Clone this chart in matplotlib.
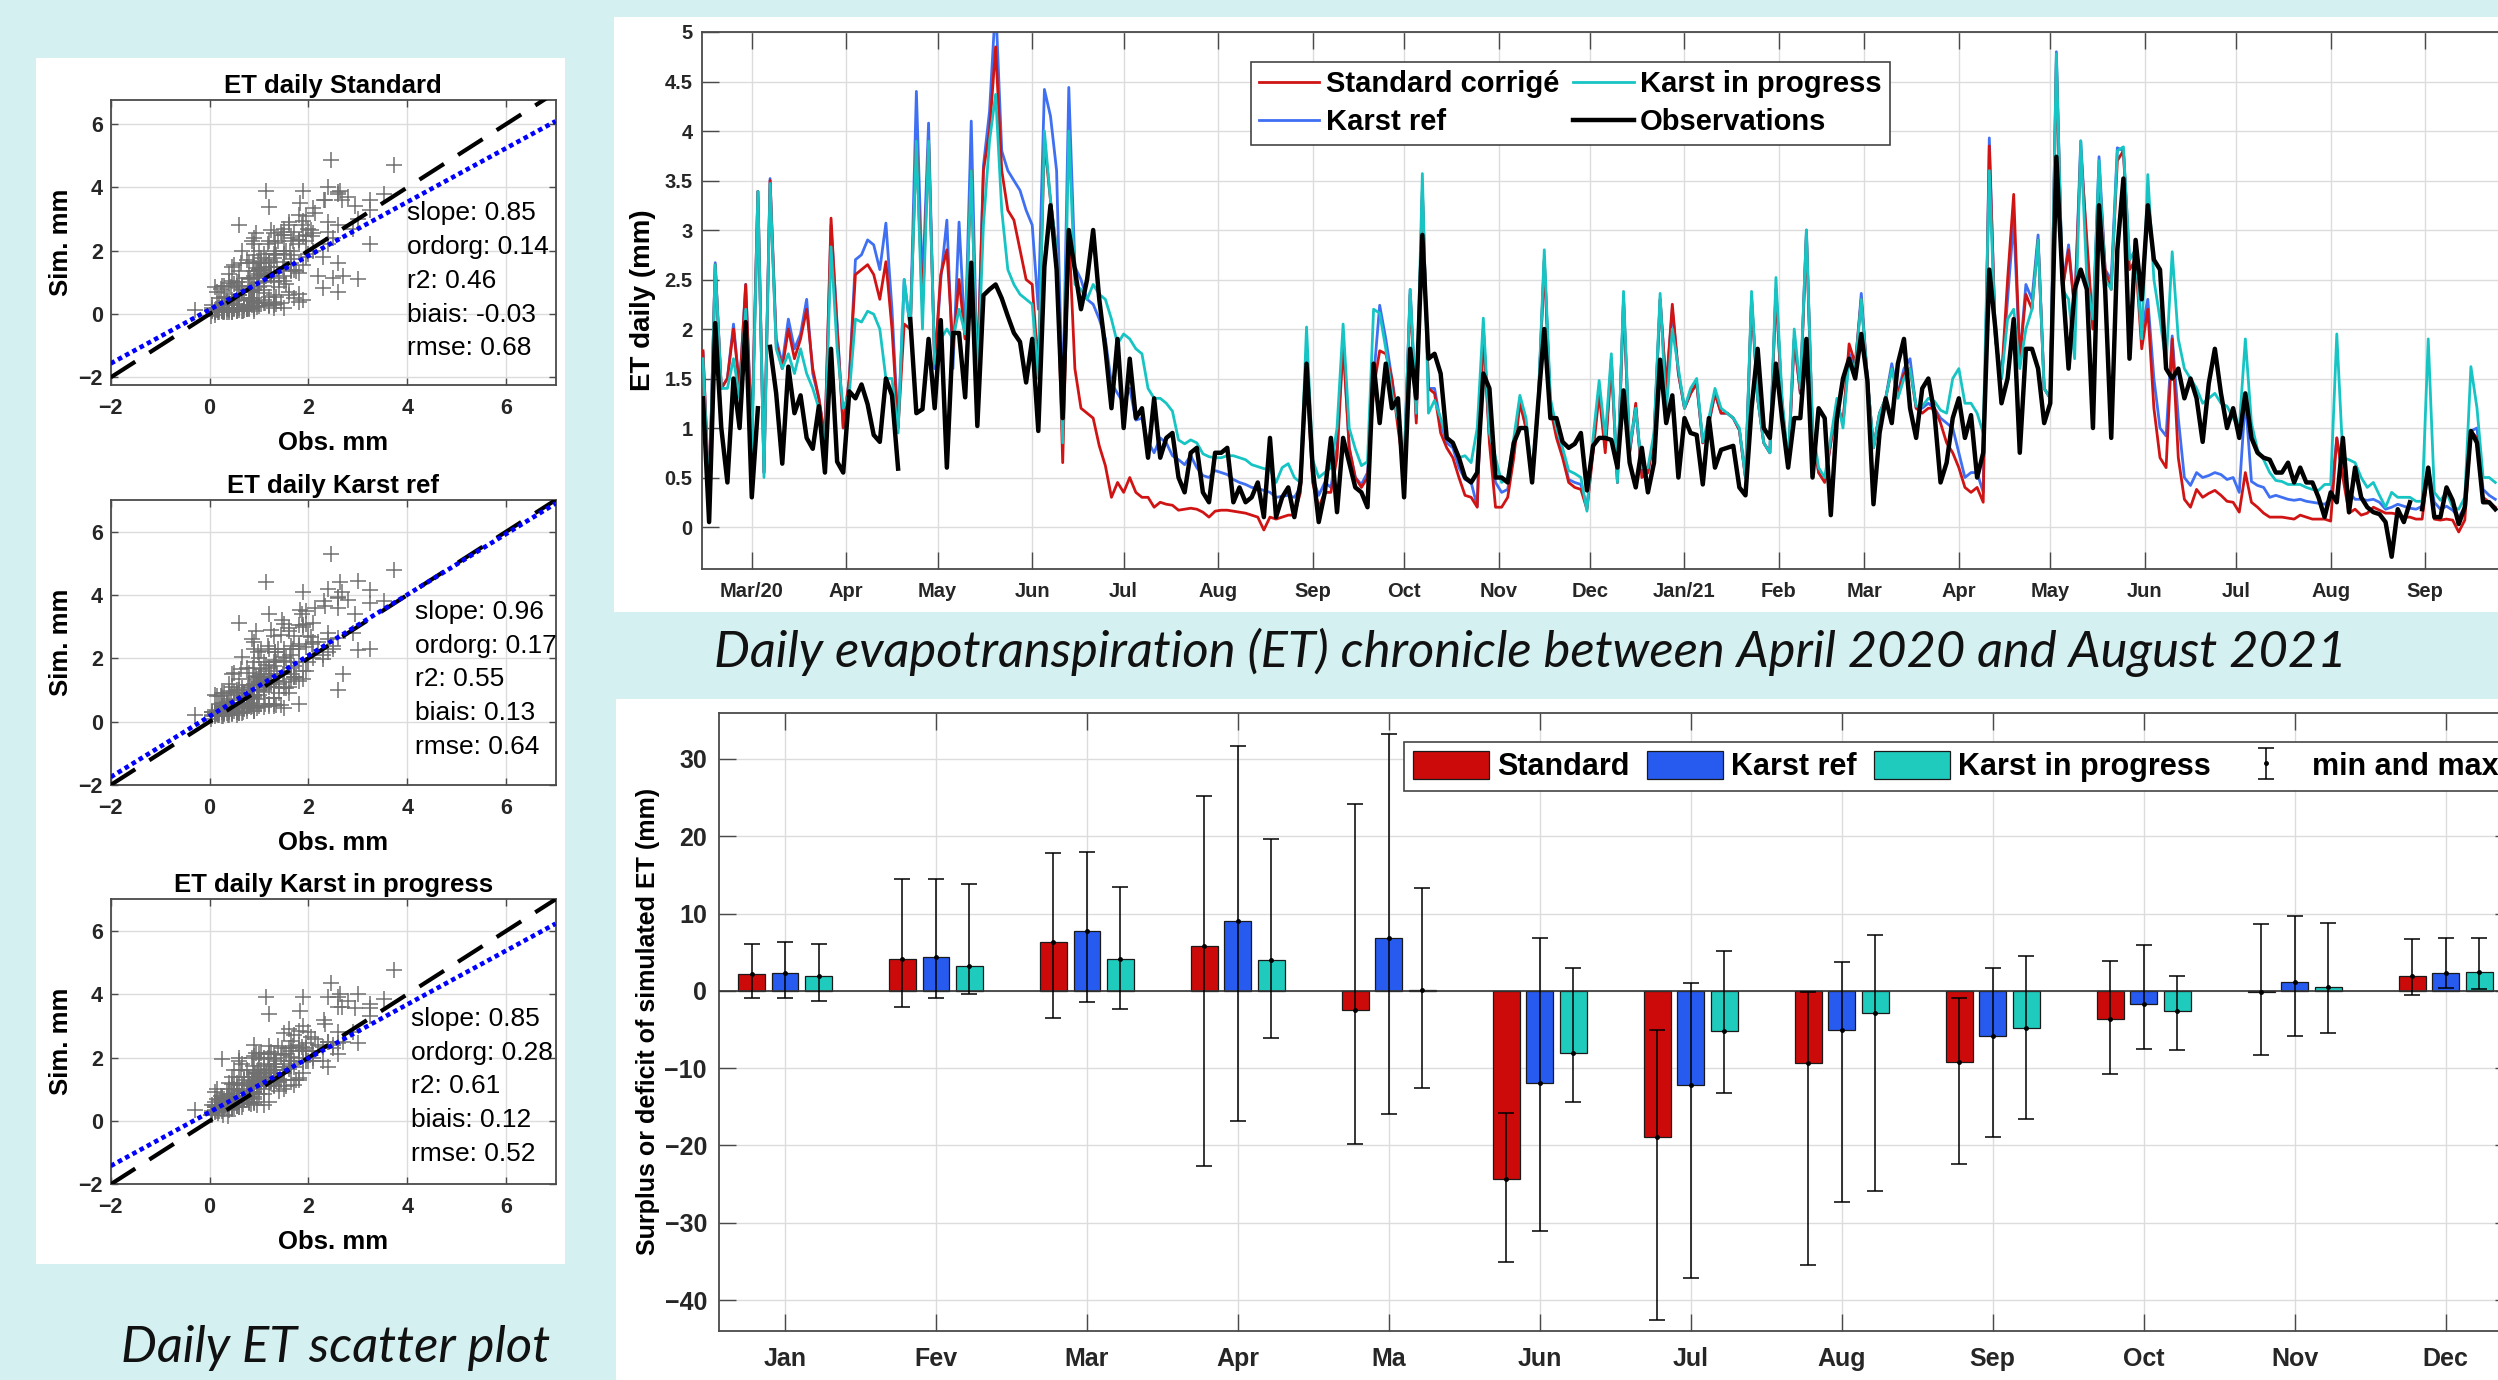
import numpy as np
import matplotlib
matplotlib.use("Agg")
import matplotlib.pyplot as plt
from matplotlib.patches import Rectangle

plt.rcParams["font.family"] = ["Liberation Sans", "DejaVu Sans"]
plt.rcParams["font.weight"] = "bold"
plt.rcParams["axes.labelweight"] = "bold"
plt.rcParams["axes.titleweight"] = "bold"

nan = np.nan

# ---------------------------------------------------------------- daily ET
# one value every 2 days, starting 14 Feb 2020 (mm/day)
start_day = np.datetime64("2020-02-14")
step_days = 2

obs = [
    1.3, 0.05, 2.06, 1.0, 0.45, 1.5, 1.0, 2.07, 0.3, 1.2,
    nan, 1.82, 1.35, 0.64, 1.62, 1.15, 1.33, 0.9, 0.79, 1.22,
    0.55, 1.8, 0.66, 0.55, 1.37, 1.3, 1.44, 1.24, 0.93, 0.86,
    1.5, 1.33, 0.59, nan, 2.1, 1.15, 1.19, 1.9, 1.2, 2.09,
    0.6, 1.96, 1.96, 1.31, 2.67, 1.02, 2.34, 2.4, 2.45, 2.31,
    2.13, 1.96, 1.87, 1.46, 1.9, 0.97, 2.63, 3.25, 2.6,
    1.1, 3.0, 2.6, 2.2, 2.5, 3.0, 2.3, 1.8, 1.2, 1.9,
    1.0, 1.7, 1.1, 1.2, 0.7, 1.3, 0.7, 0.9, 0.95, 0.5,
    0.35, 0.75, 0.8, 0.35, 0.25, 0.75, 0.75, 0.8, 0.25, 0.4,
    0.25, 0.3, 0.45, 0.1, 0.9, 0.1, 0.3, 0.4, 0.1, 0.45,
    1.65, 0.6, 0.05, 0.35, 0.9, 0.15, 0.9, 0.65, 0.4, 0.35,
    0.2, 1.65, 1.05, 1.65, 1.2, 1.3, 0.3, 1.8, 1.3,
    2.95, 1.7, 1.75, 1.55, 0.9, 0.85, 0.7, 0.5, 0.45, 0.55,
    1.55, 1.4, 0.5, 0.5, 0.45, 0.85, 1.0, 1.0, 0.45, 1.25,
    2.0, 1.1, 1.1, 0.86, 0.8, 0.84, 0.95, 0.37, 0.82, 0.9,
    0.9, 0.88, 0.6, 1.38, 0.65, 0.4, 0.8, 0.35, 0.65, 1.69,
    1.05, 1.33, 0.5, 1.1, 0.95, 0.93, 0.43, 1.1, 0.6, 0.78,
    0.8, 0.82, 0.4, 0.32, 1.2, 1.8, 1.0, 0.9, 1.65,
    1.1, 0.6, 1.1, 1.1, 1.9, 0.5, 1.2, 1.1, 0.12, 1.1,
    1.5, 1.7, 1.5, 1.95, 1.48, 0.23, 0.95, 1.3, 1.05, 1.65,
    1.9, 1.2, 0.9, 1.4, 1.5, 1.15, 0.45, 0.65, 1.1, 1.3,
    0.9, 1.13, 0.5, 0.75, 2.6, 2.0, 1.25, 1.5, 2.1, 0.75,
    1.8, 1.8, 1.6, 1.05, 1.25, 3.74, 2.5, 1.6, 2.4, 2.6,
    2.4, 1.0, 3.25, 2.4, 0.9, 2.8, 3.52, 1.7, 2.9,
    2.3, 3.25, 2.7, 2.6, 1.6, 1.5, 1.6, 1.3, 1.5, 1.3,
    0.86, 1.45, 1.8, 1.35, 1.0, 1.2, 0.9, 1.35, 0.9, 0.75,
    0.7, 0.68, 0.55, 0.55, 0.65, 0.45, 0.6, 0.45, 0.45, 0.3,
    0.1, 0.35, 0.25, 0.9, 0.15, 0.6, 0.3, 0.2, 0.15, 0.13,
    0.05, -0.3, 0.18, 0.05, 0.25, nan, 0.18, 0.6, 0.1, 0.1,
    0.4, 0.27, 0.03, 0.2, 0.97, 0.85, 0.25, 0.25, 0.18,
]

standard = [
    1.78, 0.3, 2.65, 1.4, 1.5, 2.0, 1.4, 2.45, 0.9, 3.39,
    0.55, 3.5, 1.85, 1.6, 2.0, 1.7, 1.9, 2.2, 1.6, 1.3,
    0.9, 3.12, 2.0, 1.0, 1.5, 2.55, 2.6, 2.65, 2.55, 2.3,
    2.68, 2.0, 1.0, 2.05, 2.0, 3.9, 2.2, 3.9, 1.65, 2.55,
    2.8, 1.8, 2.5, 1.9, 3.6, 1.45, 3.6, 4.0, 4.85, 3.6,
    3.2, 3.1, 2.8, 2.5, 2.45, 1.6, 3.9, 3.3, 2.8,
    0.65, 3.0, 1.6, 1.2, 1.15, 1.1, 0.82, 0.62, 0.3, 0.45,
    0.35, 0.5, 0.35, 0.3, 0.3, 0.2, 0.25, 0.23, 0.22, 0.17,
    0.18, 0.19, 0.18, 0.15, 0.1, 0.16, 0.17, 0.17, 0.16, 0.15,
    0.14, 0.12, 0.1, -0.03, 0.1, 0.08, 0.1, 0.12, 0.12, 0.35,
    1.6, 0.45, 0.2, 0.35, 0.35, 0.7, 1.85, 0.8, 0.5, 0.4,
    0.5, 1.4, 1.78, 1.75, 1.5, 1.0, 0.55, 2.35, 1.05,
    3.4, 1.4, 1.35, 0.95, 0.8, 0.7, 0.5, 0.32, 0.3, 0.2,
    2.0, 0.85, 0.2, 0.2, 0.3, 0.7, 1.25, 1.0, 0.45, 1.2,
    2.7, 1.2, 0.9, 0.7, 0.45, 0.4, 0.38, 0.18, 0.75, 1.35,
    0.75, 1.65, 0.45, 2.3, 0.75, 1.25, 0.5, 0.55, 0.9, 2.3,
    1.4, 2.25, 1.55, 1.2, 1.35, 1.45, 0.85, 1.05, 1.35, 1.15,
    1.15, 1.1, 0.98, 0.5, 2.3, 1.3, 0.85, 0.75, 2.4,
    1.25, 0.6, 1.9, 1.35, 2.95, 0.95, 0.55, 0.45, 0.85, 1.25,
    1.05, 1.85, 1.65, 2.3, 1.5, 0.8, 1.15, 1.3, 1.6, 1.35,
    1.55, 1.6, 1.2, 1.15, 1.2, 1.2, 1.05, 0.85, 0.75, 0.6,
    0.4, 0.35, 0.4, 0.25, 3.85, 1.9, 1.5, 2.5, 3.36, 1.7,
    2.35, 2.2, 2.9, 1.4, 1.3, 4.7, 2.4, 2.8, 2.2, 3.8,
    2.9, 2.0, 3.6, 2.6, 2.4, 3.7, 3.8, 2.6, 2.7,
    1.8, 2.2, 1.2, 0.7, 0.6, 1.9, 0.7, 0.28, 0.2, 0.38,
    0.3, 0.34, 0.37, 0.32, 0.26, 0.25, 0.15, 0.55, 0.25, 0.2,
    0.14, 0.1, 0.1, 0.1, 0.09, 0.08, 0.12, 0.1, 0.08, 0.08,
    0.08, 0.06, 0.9, 0.5, 0.14, 0.18, 0.12, 0.14, 0.2, 0.17,
    0.14, 0.14, 0.13, 0.1, 0.1, 0.08, 0.08, 0.6, 0.08, 0.07,
    0.08, 0.07, -0.05, 0.07, 0.97, 0.9, 0.3, 0.25, 0.2,
]

karst_ref = [
    1.76, 0.3, 2.67, 1.4, 1.5, 2.05, 1.4, 2.45, 0.9, 3.39,
    0.55, 3.52, 1.9, 1.65, 2.1, 1.8, 1.95, 2.3, 1.55, 1.3,
    0.9, 3.05, 2.05, 1.0, 1.5, 2.7, 2.75, 2.9, 2.85, 2.6,
    3.07, 2.2, 1.0, 2.5, 2.0, 4.4, 2.4, 4.08, 1.6, 2.5,
    3.1, 1.6, 3.08, 1.9, 4.1, 1.5, 3.65, 4.2, 5.3, 3.8,
    3.6, 3.5, 3.4, 3.2, 3.05, 2.2, 4.42, 4.15, 3.6,
    1.2, 4.44, 2.63, 2.5, 2.3, 2.25, 2.1, 1.9, 1.45, 1.35,
    1.25, 1.4, 1.08, 1.1, 0.86, 0.75, 0.9, 0.85, 0.72, 0.68,
    0.63, 0.72, 0.6, 0.52, 0.5, 0.57, 0.55, 0.53, 0.48, 0.45,
    0.43, 0.4, 0.39, 0.37, 0.35, 0.3, 0.31, 0.32, 0.3, 0.4,
    1.69, 0.5, 0.32, 0.45, 0.4, 0.8, 1.9, 0.8, 0.5, 0.43,
    0.55, 1.5, 2.24, 1.9, 1.5, 1.1, 0.6, 2.4, 1.1,
    3.4, 1.4, 1.4, 1.05, 0.85, 0.8, 0.6, 0.48, 0.45, 0.21,
    2.0, 0.9, 0.45, 0.35, 0.38, 0.75, 1.3, 1.0, 0.48, 1.25,
    2.7, 1.25, 0.95, 0.75, 0.48, 0.45, 0.43, 0.2, 0.8, 1.4,
    0.8, 1.7, 0.45, 2.3, 0.75, 1.2, 0.55, 0.55, 0.9, 2.3,
    1.4, 2.2, 1.55, 1.2, 1.35, 1.45, 0.85, 1.05, 1.35, 1.15,
    1.15, 1.1, 0.98, 0.5, 2.3, 1.3, 0.85, 0.75, 2.4,
    1.25, 0.6, 1.9, 1.35, 3.0, 0.95, 0.55, 0.46, 0.85, 1.25,
    1.05, 1.75, 1.6, 2.36, 1.5, 0.8, 1.15, 1.3, 1.65, 1.35,
    1.6, 1.7, 1.2, 1.2, 1.25, 1.2, 1.1, 1.05, 1.0, 0.75,
    0.5, 0.55, 0.55, 0.35, 3.93, 1.9, 1.5, 2.3, 3.1, 1.7,
    2.45, 2.3, 2.95, 1.4, 1.3, 4.8, 2.4, 2.85, 2.2, 3.9,
    2.8, 2.0, 3.74, 2.6, 2.5, 3.83, 3.8, 2.7, 2.8,
    1.98, 2.3, 1.5, 1.0, 0.92, 1.93, 1.1, 0.5, 0.42, 0.55,
    0.5, 0.52, 0.55, 0.53, 0.48, 0.5, 0.35, 1.3, 0.46, 0.42,
    0.4, 0.3, 0.32, 0.3, 0.28, 0.27, 0.28, 0.26, 0.25, 0.24,
    0.23, 0.28, 0.9, 0.5, 0.35, 0.28, 0.28, 0.27, 0.28, 0.25,
    0.18, 0.2, 0.23, 0.21, 0.19, 0.18, 0.21, 0.6, 0.25, 0.18,
    0.21, 0.17, 0.1, 0.2, 0.97, 1.0, 0.38, 0.32, 0.28,
]

karst_prog = [
    1.7, 0.25, 2.65, 1.4, 1.4, 1.7, 1.3, 2.2, 0.7, 3.39,
    0.5, 3.47, 1.8, 1.6, 1.75, 1.55, 1.8, 1.55, 1.4, 1.2,
    0.75, 2.83, 1.8, 1.2, 1.35, 2.1, 2.07, 2.18, 2.15, 2.0,
    1.5, 1.5, 0.95, 2.5, 2.0, 3.9, 2.0, 3.9, 1.65, 1.9,
    2.0, 1.9, 2.2, 1.95, 3.6, 1.44, 3.05, 3.9, 4.37, 3.2,
    2.6, 2.45, 2.35, 2.3, 2.25, 1.5, 4.0, 3.3, 2.8,
    0.85, 4.0, 2.45, 2.4, 2.3, 2.45, 2.35, 2.3, 2.1, 1.85,
    1.95, 1.9, 1.8, 1.75, 1.4, 1.3, 1.3, 1.25, 1.17, 0.88,
    0.84, 0.88, 0.85, 0.74, 0.71, 0.7, 0.7, 0.72, 0.72, 0.7,
    0.68, 0.63, 0.61, 0.59, 0.58, 0.45, 0.6, 0.64, 0.5, 0.45,
    2.02, 0.68, 0.5, 0.55, 0.6, 1.0, 2.05, 1.0, 0.79, 0.62,
    0.66, 2.2, 2.16, 1.8, 1.35, 1.1, 0.6, 2.4, 1.15,
    3.57, 1.15, 1.28, 1.1, 0.9, 0.86, 0.7, 0.72, 0.65, 1.0,
    2.11, 0.95, 0.7, 0.45, 0.5, 0.9, 1.33, 1.1, 0.5, 1.25,
    2.8, 1.3, 1.0, 0.8, 0.57, 0.54, 0.5, 0.16, 0.9, 1.48,
    0.9, 1.75, 0.45, 2.38, 0.8, 1.2, 0.6, 0.6, 0.95, 2.36,
    1.15, 2.0, 1.6, 1.2, 1.4, 1.5, 0.86, 1.1, 1.4, 1.2,
    1.15, 1.1, 1.0, 0.5, 2.38, 1.3, 0.85, 0.75, 2.52,
    1.3, 0.65, 2.0, 1.4, 3.0, 1.0, 0.6, 0.5, 0.9, 1.3,
    1.0, 1.7, 1.6, 2.3, 1.5, 0.8, 1.15, 1.3, 1.6, 1.3,
    1.5, 1.6, 1.22, 1.22, 1.3, 1.27, 1.18, 1.15, 1.5, 1.6,
    1.25, 1.25, 1.15, 0.95, 3.6, 1.9, 1.5, 2.1, 2.2, 1.6,
    2.0, 2.2, 2.9, 1.4, 1.3, 4.78, 2.4, 2.3, 1.7, 3.9,
    2.5, 2.1, 3.7, 2.5, 2.4, 3.8, 3.84, 2.7, 2.8,
    1.9, 3.56, 2.5, 2.1, 1.65, 2.78, 1.9, 1.6, 1.5, 1.4,
    1.25, 1.3, 1.35, 1.25, 1.22, 1.1, 1.0, 1.9, 1.05, 0.78,
    0.68, 0.55, 0.47, 0.46, 0.43, 0.43, 0.43, 0.4, 0.38, 0.37,
    0.43, 0.43, 1.95, 0.7, 0.68, 0.65, 0.5, 0.4, 0.45, 0.32,
    0.2, 0.35, 0.3, 0.3, 0.3, 0.26, 0.26, 1.9, 0.35, 0.27,
    0.35, 0.2, 0.18, 0.3, 1.62, 1.2, 0.5, 0.5, 0.45,
]

ts_month_labels = ["Mar/20", "Apr", "May", "Jun", "Jul", "Aug", "Sep", "Oct",
                   "Nov", "Dec", "Jan/21", "Feb", "Mar", "Apr", "May", "Jun",
                   "Jul", "Aug", "Sep"]

# ---------------------------------------------------------------- scatter stats
scatter_titles = ["ET daily Standard", "ET daily Karst ref", "ET daily Karst in progress"]
slopes = [0.85, 0.96, 0.85]
ordorgs = [0.14, 0.17, 0.28]
r2s = [0.46, 0.55, 0.61]
biais = [-0.03, 0.13, 0.12]
rmses = [0.68, 0.64, 0.52]
sc_xlim = [-2, 7]
sc_ylims = [(-2.24, 6.76), (-2, 7), (-2, 7)]

# ---------------------------------------------------------------- monthly bars
months = ["Jan", "Fev", "Mar", "Apr", "Ma", "Jun", "Jul", "Aug", "Sep", "Oct", "Nov", "Dec"]
bar_std = [2.2, 4.1, 6.35, 5.8, -2.5, -24.4, -18.9, -9.3, -9.2, -3.7, -0.1, 1.9]
bar_ref = [2.3, 4.4, 7.8, 9.1, 6.8, -11.9, -12.2, -5.1, -5.8, -1.7, 1.1, 2.3]
bar_prog = [1.9, 3.2, 4.15, 4.0, 0.1, -8.1, -5.2, -2.8, -4.85, -2.55, 0.45, 2.4]
std_max = [6.1, 14.5, 17.8, 25.2, 24.2, -15.75, -5.1, -0.1, -0.9, 3.9, 8.7, 6.7]
std_min = [-0.9, -2.1, -3.45, -22.7, -19.8, -35.1, -42.6, -35.4, -22.4, -10.7, -8.25, -0.5]
ref_max = [6.3, 14.5, 17.95, 31.7, 33.2, 6.9, 1.0, 3.7, 3.0, 6.0, 9.7, 6.8]
ref_min = [-0.9, -0.9, -1.5, -16.8, -15.9, -31.0, -37.2, -27.3, -18.9, -7.55, -5.85, 0.4]
prog_max = [6.1, 13.8, 13.4, 19.6, 13.3, 2.95, 5.1, 7.2, 4.45, 1.95, 8.8, 6.9]
prog_min = [-1.3, -0.45, -2.3, -6.1, -12.6, -14.4, -13.2, -25.9, -16.6, -7.7, -5.4, 0.3]

# ---------------------------------------------------------------- styling
W, H = 2498, 1380
BG = "#D4F0F0"
AX_COL = "#4a4a4a"
GRID_COL = "#dcdcdc"
C_STD, C_REF, C_PROG = "#D01414", "#3F6FF2", "#17C4C4"
B_STD, B_REF, B_PROG = "#CC0A0A", "#275AEF", "#1FCBBD"


def frac(x0, y0, x1, y1):
    # pixel box (origin top-left) -> figure fraction rectangle
    return [x0 / W, 1 - y1 / H, (x1 - x0) / W, (y1 - y0) / H]


def white_panel(fig, x0, y0, x1, y1):
    fig.add_artist(Rectangle((x0 / W, 1 - y1 / H), (x1 - x0) / W, (y1 - y0) / H,
                             transform=fig.transFigure, facecolor="white",
                             edgecolor="none", zorder=-5))


def matlab_style(ax, ticklen, size, xpad, ypad):
    ax.grid(True, color=GRID_COL, lw=1)
    ax.set_axisbelow(True)
    for sp in ax.spines.values():
        sp.set_color(AX_COL)
        sp.set_linewidth(1.3)
    ax.tick_params(direction="in", length=ticklen, width=1, color=AX_COL,
                   top=True, right=True, labelsize=size, labelcolor="#262626")
    ax.tick_params(axis="x", pad=xpad)
    ax.tick_params(axis="y", pad=ypad)


fig = plt.figure(figsize=(W / 100, H / 100), dpi=100, facecolor=BG)

white_panel(fig, 35.6, 57.7, 565.4, 1264)
white_panel(fig, 614, 17, 2600, 612)
white_panel(fig, 616, 699, 2600, 1450)

# ---------------------------------------------------------------- time series
ax_ts = fig.add_axes(frac(702, 32, 2559.3, 568.6))
series = [(karst_ref, C_REF, 2.0, 2, "Karst ref"),
          (standard, C_STD, 2.0, 3, "Standard corrigé"),
          (karst_prog, C_PROG, 2.0, 4, "Karst in progress"),
          (obs, "black", 3.2, 5, "Observations")]
lines = {}
for vals, col, lw, zo, lab in series:
    dates = start_day + np.arange(len(vals)) * step_days
    lines[lab], = ax_ts.plot(dates, vals, color=col, lw=lw, zorder=zo, label=lab)

ax_ts.set_xlim(np.datetime64("2020-02-13T16:00"), np.datetime64("2021-10-15"))
ax_ts.set_ylim(-0.42, 5)
month_ticks = np.arange("2020-03", "2021-10", dtype="datetime64[M]").astype("datetime64[D]")
ax_ts.set_xticks(month_ticks, ts_month_labels)
yt = np.arange(0, 5.01, 0.5)
ax_ts.set_yticks(yt, ["%g" % v for v in yt])
matlab_style(ax_ts, 12, 14.5, 9.4, 6.8)
ax_ts.set_ylabel("ET daily (mm)", fontsize=20, va="center")
ax_ts.yaxis.set_label_coords((642.7 - 702) / 1857.3, 0.5)

order = ["Standard corrigé", "Karst ref", "Karst in progress", "Observations"]
leg = ax_ts.legend([lines[k] for k in order], order, ncol=2, loc="upper left",
                   bbox_to_anchor=(1250.5 / W, 1 - 62 / H), bbox_transform=fig.transFigure,
                   prop={"size": 21, "weight": "bold"}, fancybox=False, framealpha=1,
                   edgecolor="#444444", borderpad=0.29, handlelength=2.07,
                   handletextpad=0.22, columnspacing=0.48, labelspacing=0.33,
                   borderaxespad=0)
leg.get_frame().set_linewidth(1.2)

fig.text(1530 / W, 1 - 652 / H,
         "Daily evapotranspiration (ET) chronicle between April 2020 and August 2021",
         ha="center", va="center", fontsize=36.5, style="italic", fontweight="normal",
         family=["Lato", "DejaVu Sans"], color="#111111")

# ---------------------------------------------------------------- bars
ax_b = fig.add_axes(frac(718.6, 712.6, 2512, 1331))
x = np.arange(1, len(months) + 1)
groups = [(bar_std, std_min, std_max, B_STD, -0.222, "Standard"),
          (bar_ref, ref_min, ref_max, B_REF, 0.0, "Karst ref"),
          (bar_prog, prog_min, prog_max, B_PROG, 0.222, "Karst in progress")]
handles, labels = [], []
err_handle = None
for vals, lo, hi, col, off, lab in groups:
    v = np.array(vals)
    b = ax_b.bar(x + off, v, width=0.178, color=col, edgecolor="#1a1a1a",
                 linewidth=0.9, zorder=3)
    e = ax_b.errorbar(x + off, v, yerr=[v - np.array(lo), np.array(hi) - v],
                      fmt=".", color="black", ms=5, elinewidth=1.1, capsize=6,
                      capthick=1.1, zorder=4)
    handles.append(b)
    labels.append(lab)
    if err_handle is None:
        err_handle = e
handles.append(err_handle)
labels.append("min and max")
ax_b.axhline(0, color="#333333", lw=1.2, zorder=3.5)

ax_b.set_xlim(0.56, 12.44)
ax_b.set_ylim(-44, 36)
ax_b.set_xticks(x, months)
ax_b.set_yticks(np.arange(-40, 31, 10))
matlab_style(ax_b, 12, 18, 11.7, 8.4)
ax_b.set_ylabel("Surplus or deficit of simulated ET (mm)", fontsize=18, va="center")
ax_b.yaxis.set_label_coords((648 - 718.6) / 1793.4, 0.5)

leg_b = ax_b.legend(handles, labels, ncol=4, loc="upper left",
                    bbox_to_anchor=(1403.6 / W, 1 - 742 / H), bbox_transform=fig.transFigure,
                    prop={"size": 22, "weight": "bold"}, fancybox=False, framealpha=1,
                    edgecolor="#444444", borderpad=0.3, handlelength=2.5,
                    handleheight=1.0, handletextpad=0.26, columnspacing=0.56,
                    borderaxespad=0)
leg_b.get_frame().set_linewidth(1.2)

# ---------------------------------------------------------------- scatters
o = np.array(obs)
ok = ~np.isnan(o)
sims = [standard, karst_ref, karst_prog]
sc_tops = [100, 500, 899.3]
stat_x = [0.666, 0.684, 0.676]
stat_y0 = [0.6025, 0.608, 0.581]
for i in range(3):
    ax = fig.add_axes(frac(110.7, sc_tops[i], 555.6, sc_tops[i] + 285))
    s = np.array(sims[i])
    ax.plot(o[ok], s[ok], "+", color="#707070", ms=12, mew=1.1, ls="none", zorder=2)
    lim = np.array(sc_xlim, dtype=float)
    ax.plot(lim, lim, color="black", lw=3, ls=(0, (7, 4)), zorder=3)
    ax.plot(lim, slopes[i] * lim + ordorgs[i], color="#0000FF", lw=3.3,
            ls=(0, (1, 0.8)), zorder=4)
    ax.set_xlim(*sc_xlim)
    ax.set_ylim(*sc_ylims[i])
    ax.set_xticks([-2, 0, 2, 4, 6])
    ax.set_yticks([-2, 0, 2, 4, 6])
    matlab_style(ax, 5, 15.5, 9.5, 5.5)
    ax.set_title(scatter_titles[i], fontsize=18.5, pad=5)
    ax.set_xlabel("Obs. mm", fontsize=18.5, va="center")
    ax.xaxis.set_label_coords(0.5, -0.204)
    ax.set_ylabel("Sim. mm", fontsize=18.5, va="center")
    ax.yaxis.set_label_coords(-0.111, 0.5)
    stats = [("slope", slopes[i]), ("ordorg", ordorgs[i]), ("r2", r2s[i]),
             ("biais", biais[i]), ("rmse", rmses[i])]
    for j, (name, val) in enumerate(stats):
        ax.text(stat_x[i], stat_y0[i] - j * 0.1186, "%s: %.2f" % (name, val),
                transform=ax.transAxes, fontsize=19, fontweight="normal",
                ha="left", va="center", color="black", zorder=6)

fig.text(336 / W, 1 - 1348 / H, "Daily ET scatter plot", ha="center", va="center",
         fontsize=36.5, style="italic", fontweight="normal",
         family=["Lato", "DejaVu Sans"], color="#111111")

fig.savefig("out.png", dpi=100, facecolor=BG)
